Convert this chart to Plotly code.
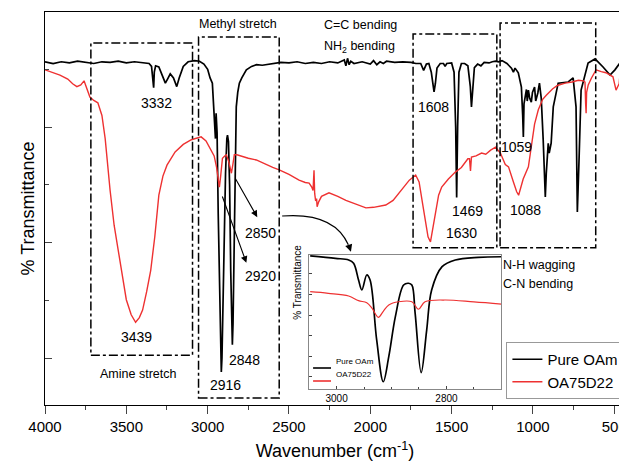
import plotly.graph_objects as go

# ---------------- data ----------------
oam_wn = [4000, 3950, 3900, 3850, 3800, 3750, 3700, 3650, 3600, 3550, 3500, 3450, 3400, 3360,
          3345, 3335, 3332, 3328, 3320, 3300, 3280, 3260, 3245, 3230, 3210, 3190, 3175, 3150,
          3120, 3080, 3050, 3023, 3000, 2985, 2971, 2962, 2958, 2952, 2948, 2942, 2935, 2928,
          2920, 2916, 2912, 2905, 2898, 2890, 2882, 2878, 2872, 2865, 2858, 2852, 2848, 2844,
          2838, 2830, 2824, 2815, 2805, 2790, 2762, 2730, 2700, 2664, 2600, 2550, 2500, 2450,
          2400, 2350, 2300, 2250, 2200, 2160, 2150, 2140, 2130, 2120, 2100, 2050, 2000, 1980,
          1960, 1940, 1920, 1900, 1850, 1800, 1750, 1720, 1690, 1672, 1655, 1640, 1625, 1615,
          1608, 1600, 1590, 1570, 1550, 1540, 1530, 1500, 1485, 1475, 1469, 1463, 1455, 1440,
          1420, 1400, 1385, 1378, 1370, 1360, 1340, 1320, 1300, 1270, 1250, 1230, 1212, 1190,
          1160, 1140, 1132, 1120, 1110, 1090, 1078, 1071, 1063, 1059, 1055, 1047, 1040, 1035,
          1028, 1020, 1010, 1003, 990, 983, 970, 960, 949, 937, 924, 918, 906, 900, 888, 875,
          845, 783, 753, 735, 727, 716, 704, 661, 618, 569, 526, 496, 465, 446, 434]
oam_t = [71.3, 71.0, 71.3, 71.1, 71.4, 71.2, 71.0, 71.3, 71.2, 71.4, 71.1, 71.3, 71.2, 71.0,
         70.5, 67.5, 66.8, 69.5, 70.6, 70.4, 69.0, 67.6, 68.4, 69.2, 68.5, 67.0, 68.5, 70.5,
         71.3, 71.5, 71.4, 70.9, 70.0, 68.5, 67.6, 63.0, 60.0, 58.0, 62.4, 59.0, 45.0, 32.0,
         20.0, 17.6, 20.0, 30.0, 42.0, 52.0, 58.0, 58.6, 57.5, 50.0, 35.0, 24.0, 22.3, 26.0,
         40.0, 55.0, 63.5, 66.0, 67.6, 68.5, 69.9, 70.5, 70.8, 70.7, 71.0, 71.2, 71.1, 71.3,
         71.0, 71.2, 71.0, 71.3, 71.1, 71.6, 70.6, 71.9, 70.8, 71.4, 71.0, 71.3, 70.9, 71.5,
         70.8, 71.3, 71.0, 71.4, 71.2, 71.3, 71.2, 71.0, 71.0, 69.8, 70.9, 71.0, 69.5, 66.8,
         66.1, 67.5, 70.2, 71.0, 71.0, 70.5, 71.0, 71.1, 69.5, 60.0, 47.8, 60.0, 69.5, 71.0,
         71.0, 70.6, 67.0, 63.5, 67.0, 70.3, 70.9, 70.6, 71.2, 71.1, 71.3, 71.4, 71.3, 71.5,
         71.0, 70.4, 70.2, 69.5, 70.2, 69.4, 67.5, 66.9, 62.0, 58.3, 64.0, 65.2, 66.5, 64.5,
         66.4, 65.0, 64.3, 66.0, 66.9, 64.5, 65.9, 67.6, 65.0, 57.8, 47.9, 52.0, 57.2, 55.5,
         57.2, 63.5, 67.6, 67.8, 68.5, 63.5, 45.3, 54.8, 66.4, 71.1, 71.8, 70.4, 69.0, 69.9,
         71.1, 71.6, 71.4]

oa_wn = [4000, 3950, 3908, 3860, 3830, 3804, 3780, 3760, 3748, 3735, 3724, 3700, 3675, 3650,
         3630, 3600, 3575, 3550, 3520, 3500, 3470, 3443, 3420, 3400, 3375, 3350, 3325, 3300,
         3275, 3250, 3200, 3150, 3100, 3050, 3040, 3010, 2989, 2960, 2945, 2935, 2928, 2920,
         2909, 2895, 2885, 2870, 2860, 2854, 2845, 2836, 2820, 2800, 2750, 2701, 2650, 2600,
         2560, 2500, 2438, 2400, 2376, 2360, 2352, 2346, 2342, 2336, 2330, 2327, 2318, 2300,
         2254, 2200, 2150, 2100, 2027, 1980, 1950, 1905, 1860, 1806, 1760, 1721, 1700, 1680,
         1660, 1645, 1630, 1615, 1600, 1580, 1561, 1520, 1477, 1440, 1400, 1390, 1384, 1378,
         1350, 1316, 1290, 1260, 1230, 1200, 1170, 1150, 1120, 1100, 1088, 1075, 1060, 1028,
         1010, 990, 967, 940, 918, 880, 850, 802, 760, 720, 690, 680, 676, 673, 670, 660, 640,
         612, 580, 551, 508, 489, 470, 458, 446, 434]
oa_t = [69.9, 69.4, 69.0, 68.3, 67.5, 67.0, 67.3, 68.0, 67.0, 66.0, 65.2, 64.6, 64.2, 62.0,
        58.0, 49.1, 43.0, 38.7, 33.5, 30.1, 27.5, 26.2, 27.0, 28.3, 31.5, 35.2, 41.0, 48.2,
        51.5, 53.4, 55.7, 57.0, 57.8, 58.3, 58.3, 57.6, 56.5, 55.0, 53.0, 50.5, 49.6, 51.5,
        54.6, 55.0, 55.2, 54.0, 52.5, 52.0, 53.5, 55.2, 55.2, 55.0, 54.6, 54.3, 53.6, 53.0,
        52.6, 51.8, 50.8, 50.4, 50.3, 49.6, 49.0, 52.5, 48.5, 47.2, 47.6, 46.2, 47.0, 48.0,
        48.6, 48.0, 47.3, 46.8, 46.0, 46.1, 46.3, 46.5, 47.3, 49.1, 50.8, 51.7, 50.5, 47.0,
        43.5, 41.0, 40.1, 42.5, 45.5, 48.2, 49.6, 51.0, 52.2, 53.0, 54.5, 54.5, 52.4, 54.8,
        55.0, 55.5, 55.3, 56.0, 56.5, 55.5, 53.5, 53.1, 50.5, 48.8, 48.2, 49.5, 51.0, 53.1,
        57.0, 60.5, 63.0, 64.8, 65.5, 66.6, 67.2, 67.6, 67.8, 68.1, 68.0, 67.8, 64.0, 62.4,
        66.0, 67.3, 68.5, 69.9, 69.6, 69.4, 68.7, 66.4, 67.5, 71.1, 71.3, 71.5]

# inset (2700-3050 cm-1) data, own arbitrary scale
ins_oam_wn = [3048, 3002, 2978, 2969, 2960, 2954, 2945, 2939, 2927, 2915, 2905, 2893, 2878,
              2869, 2863, 2857, 2846, 2836, 2827, 2808, 2784, 2742, 2700]
ins_oam_t = [99.3, 97.5, 96.3, 93.8, 81.3, 73.9, 85.1, 81.3, 36.6, 5.4, 24.1, 54.0, 77.6,
             78.9, 77.6, 56.5, 12.2, 44.0, 73.9, 91.3, 96.3, 98.3, 98.7]
ins_oa_wn = [3048, 3015, 2978, 2960, 2945, 2935, 2924, 2915, 2905, 2887, 2863, 2851, 2839,
             2803, 2750, 2700]
ins_oa_t = [72.6, 71.4, 69.4, 65.9, 64.4, 60.0, 53.5, 58.0, 62.7, 65.1, 65.1, 59.5, 65.1,
            66.4, 65.0, 63.4]

series_names = ["Pure OAm", "OA75D22"]
series_colors = ["#000000", "#ee3131"]
x_ticks = [4000, 3500, 3000, 2500, 2000, 1500, 1000, 500]
inset_ticks = [3000, 2800]

# peak labels: (text, wavenumber, transmittance)
peak_labels = [("3332", 3314, 64.2), ("3439", 3436, 23.6), ("2850", 2677, 41.7),
               ("2920", 2677, 34.2), ("2848", 2775, 19.7), ("2916", 2891, 15.3),
               ("1608", 1610, 63.5), ("1469", 1402, 45.5), ("1630", 1439, 41.7),
               ("1059", 1102, 56.5), ("1088", 1047, 45.6)]
group_labels = [("Amine stretch", 3430, 17.2, "center"), ("Methyl stretch", 2811, 77.8, "center"),
                ("C=C bending", 2297, 77.6, "left"), ("NH<sub>2</sub> bending", 2297, 73.8, "left"),
                ("N-H wagging", 1194, 36.1, "left"), ("C-N bending", 1194, 32.8, "left")]
# dash-dot boxes: (x0, x1, y0, y1)
boxes = [(3718, 3093, 20.5, 74.55), (3056, 2560, 13.1, 75.6),
         (1737, 1222, 39.1, 76.1), (1202, 614, 39.1, 78.0)]

FONT = "Liberation Sans, Arial, sans-serif"

# plot area on screen: x 45..627, y 12..405 (page has an 8px body margin)
def px(x):
    return (x - 45) / 582


def py(y):
    return (405 - y) / 393


fig = go.Figure()
fig.add_trace(go.Scatter(x=oam_wn, y=oam_t, mode="lines", name=series_names[0],
                         line=dict(color=series_colors[0], width=1.7)))
fig.add_trace(go.Scatter(x=oa_wn, y=oa_t, mode="lines", name=series_names[1],
                         line=dict(color=series_colors[1], width=1.4)))
fig.add_trace(go.Scatter(x=ins_oam_wn, y=ins_oam_t, mode="lines", name=series_names[0],
                         line=dict(color=series_colors[0], width=1.7, shape="spline"),
                         xaxis="x2", yaxis="y2", showlegend=False))
fig.add_trace(go.Scatter(x=ins_oa_wn, y=ins_oa_t, mode="lines", name=series_names[1],
                         line=dict(color=series_colors[1], width=1.2, shape="spline"),
                         xaxis="x2", yaxis="y2", showlegend=False))

shapes = []
for (x0, x1, y0, y1) in boxes:
    shapes.append(dict(type="rect", xref="x", yref="y", x0=x0, x1=x1, y0=y0, y1=y1,
                       line=dict(color="black", width=1.5, dash="dashdot")))
# curved arrow toward inset
shapes.append(dict(type="path", xref="x", yref="y",
                   path="M 2542,44.6 Q 2223,45.3 2135,39.6",
                   line=dict(color="black", width=1.2)))
annotations = []
annotations.append(dict(x=2119, y=38.4, ax=2140, ay=40.2, xref="x", yref="y",
                        axref="x", ayref="y", showarrow=True, arrowhead=2, arrowsize=1.2,
                        arrowwidth=1.2, arrowcolor="black", text=" "))
# straight arrows
annotations.append(dict(x=2695, y=44.4, ax=2848, ay=52.0, xref="x", yref="y",
                        axref="x", ayref="y", showarrow=True, arrowhead=2, arrowsize=1.2,
                        arrowwidth=1.1, arrowcolor="black", text=" "))
annotations.append(dict(x=2762, y=36.5, ax=2928, ay=49.4, xref="x", yref="y",
                        axref="x", ayref="y", showarrow=True, arrowhead=2, arrowsize=1.2,
                        arrowwidth=1.1, arrowcolor="black", text=" "))
for (t, x, y) in peak_labels:
    annotations.append(dict(text=t, x=x, y=y, xref="x", yref="y", showarrow=False,
                            font=dict(family=FONT, size=14, color="black")))
for (t, x, y, al) in group_labels:
    annotations.append(dict(text=t, x=x, y=y, xref="x", yref="y", showarrow=False,
                            xanchor=al, font=dict(family=FONT, size=12.5, color="black")))
# inset y title
annotations.append(dict(text="% Transmittance", x=px(298), y=py(322), xref="paper", yref="paper",
                        showarrow=False, textangle=-90,
                        font=dict(family=FONT, size=10, color="black")))
# inset legend (drawn by hand, compact)
for i, (nm, col) in enumerate(zip(series_names, series_colors)):
    yy = 368 + 13 * i
    shapes.append(dict(type="line", xref="paper", yref="paper", x0=px(314), x1=px(332),
                       y0=py(yy), y1=py(yy), line=dict(color=col, width=1.6)))
    annotations.append(dict(text=nm, x=px(335), y=py(yy), xref="paper", yref="paper",
                            xanchor="left", showarrow=False,
                            font=dict(family=FONT, size=8, color="black")))

fig.update_layout(
    width=619, height=459,
    margin=dict(l=37, r=0, t=4, b=62),
    paper_bgcolor="white", plot_bgcolor="white",
    font=dict(family=FONT, color="black"),
    shapes=shapes, annotations=annotations,
    xaxis=dict(range=[4000, 434], tickvals=x_ticks, ticks="outside", ticklen=8, tickwidth=1.2,
               minor=dict(dtick=250, ticks="outside", ticklen=4, tickwidth=1.2),
               showline=True, linecolor="black", linewidth=1.3, mirror=True,
               showgrid=False, zeroline=False, ticklabeloverflow="allow",
               tickfont=dict(family=FONT, size=15),
               title=dict(text="Wavenumber (cm<sup>-1</sup>)", font=dict(family=FONT, size=18),
                          standoff=10)),
    yaxis=dict(range=[11.87, 79.92], tick0=20, dtick=20, ticks="inside", ticklen=7, tickwidth=1.2,
               minor=dict(dtick=10, ticks="inside", ticklen=4, tickwidth=1.2),
               showticklabels=False, showline=True, linecolor="black", linewidth=1.3,
               showgrid=False, zeroline=False,
               title=dict(text="% Transmittance", font=dict(family=FONT, size=18), standoff=4)),
    xaxis2=dict(domain=[px(310), px(503)], anchor="y2", range=[3050, 2700],
                tickvals=inset_ticks, ticks="inside", ticklen=3, tickfont=dict(family=FONT, size=10),
                minor=dict(dtick=50, ticks="inside", ticklen=2),
                showline=True, linecolor="#888888", linewidth=1, mirror=True,
                showgrid=False, zeroline=False),
    yaxis2=dict(domain=[py(389), py(255)], anchor="x2", range=[0, 100],
                tick0=9, dtick=15.4, ticks="inside", ticklen=3, showticklabels=False,
                showline=True, linecolor="#888888", linewidth=1, mirror=True,
                showgrid=False, zeroline=False),
    legend=dict(x=px(508), y=py(342), xanchor="left", yanchor="top",
                bgcolor="white", bordercolor="#999999", borderwidth=1,
                font=dict(family=FONT, size=15), tracegroupgap=0, itemwidth=30),
    showlegend=True,
)

fig.write_html("out.html")
